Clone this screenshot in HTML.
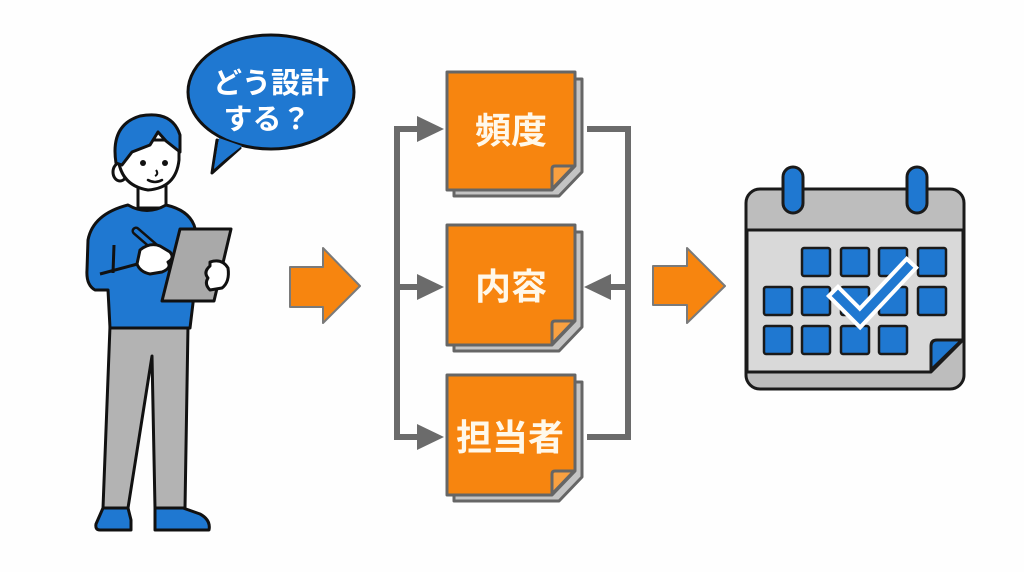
<!DOCTYPE html>
<html><head><meta charset="utf-8"><style>
html,body{margin:0;padding:0;background:#fff;}
svg{display:block;}
text{font-family:"Liberation Sans","Noto Sans CJK JP",sans-serif;font-weight:bold;}
</style></head><body>
<svg width="1024" height="572" viewBox="0 0 1024 572" xmlns="http://www.w3.org/2000/svg">
<rect width="1024" height="572" fill="#fefefe"/>

<!-- Speech bubble -->
<path d="M217,140 L212,173 L240,148 Z" fill="#1f78d1" stroke="#111" stroke-width="3" stroke-linejoin="round"/>
<ellipse cx="271" cy="92" rx="83" ry="57" fill="#1f78d1" stroke="#111" stroke-width="3"/>
<path d="M219,138 L214,168 L242,146 Z" fill="#1f78d1"/>
<text x="271" y="93" font-size="29" fill="#fff" text-anchor="middle">どう設計</text>
<text x="267" y="129" font-size="29" fill="#fff" text-anchor="middle">する？</text>

<!-- Person -->
<!-- pants -->
<path d="M110,326 L188,326 L185,508 L155,508 L152,356 L128,508 L103,508 Z" fill="#b3b3b3" stroke="#111" stroke-width="3" stroke-linejoin="round"/>
<!-- shoes -->
<path d="M103,508 L128,508 L131,520 L131,530 L100,530 Q95,530 96,524 Z" fill="#1f78d1" stroke="#111" stroke-width="3" stroke-linejoin="round"/>
<path d="M155,508 L183,508 L200,514 Q211,520 209,530 L155,530 Z" fill="#1f78d1" stroke="#111" stroke-width="3" stroke-linejoin="round"/>
<!-- neck -->
<path d="M138,185 L138,208 L166,208 L166,185 Z" fill="#fff" stroke="#111" stroke-width="3"/>
<!-- shirt -->
<path d="M128,205 Q147,216 166,205 Q188,210 194,225 L200,245 L190,328 L110,328 L108,290 L95,290 Q86,285 87,270 L88,240 Q93,214 128,205 Z" fill="#1f78d1" stroke="#111" stroke-width="3" stroke-linejoin="round"/>
<path d="M114,245 L113,273" stroke="#111" stroke-width="3" fill="none"/>
<path d="M100,274 L145,262" stroke="#111" stroke-width="3" fill="none"/>
<!-- clipboard -->
<path d="M180,229 L231,229 L214,301 L162,301 Z" fill="#a9a9a9" stroke="#111" stroke-width="3" stroke-linejoin="round"/>
<!-- pen -->
<path d="M136,231 L158,250" stroke="#111" stroke-width="9" stroke-linecap="round"/>
<path d="M136,231 L158,250" stroke="#1f78d1" stroke-width="4" stroke-linecap="round"/>
<!-- left hand -->
<path d="M140,250 Q150,242 160,246 L170,252 Q175,258 168,262 Q172,268 162,272 L150,274 Q140,272 137,264 Z" fill="#fff" stroke="#111" stroke-width="3" stroke-linejoin="round"/>
<!-- right hand -->
<path d="M210,262 Q222,258 228,268 Q230,282 222,288 L210,290 Q204,284 208,278 Q203,272 210,266 Z" fill="#fff" stroke="#111" stroke-width="3" stroke-linejoin="round"/>
<!-- head -->
<ellipse cx="120" cy="172" rx="7" ry="9" fill="#fff" stroke="#111" stroke-width="3"/>
<path d="M118,150 Q117,185 148,190 Q176,188 179,160 L179,140 L118,140 Z" fill="#fff" stroke="#111" stroke-width="3"/>
<path d="M116,163 Q110,125 140,116 Q172,110 180,135 L180,152 L166,141 L158,132 L150,145 L132,152 L122,165 Z" fill="#1f78d1" stroke="#111" stroke-width="3" stroke-linejoin="round"/>
<circle cx="143" cy="163" r="3" fill="#111"/>
<circle cx="165" cy="163" r="3" fill="#111"/>
<path d="M156,170 Q159,174 155,176" stroke="#111" stroke-width="2" fill="none"/>
<path d="M148,180 Q155,184 162,180" stroke="#111" stroke-width="2.5" fill="none" stroke-linecap="round"/>

<!-- Orange arrows -->
<path d="M290,267 L323,267 L323,248 L360,286 L323,323 L323,307 L290,307 Z" fill="#f7850f" stroke="#7a7a7a" stroke-width="2" stroke-linejoin="round"/>
<path d="M653,266 L687,266 L687,248 L725,286 L687,323 L687,305 L653,305 Z" fill="#f7850f" stroke="#7a7a7a" stroke-width="2" stroke-linejoin="round"/>

<!-- Connectors -->
<g stroke="#6b6b6b" stroke-width="6" fill="none">
<path d="M420,129 L397,129 L397,437 L420,437"/>
<path d="M397,287 L420,287"/>
<path d="M587,129 L628,129 L628,437 L587,437"/>
<path d="M628,287 L608,287"/>
</g>
<g fill="#6b6b6b">
<path d="M417,116 L444,129 L417,142 Z"/>
<path d="M417,274 L444,287 L417,300 Z"/>
<path d="M417,424 L444,437 L417,450 Z"/>
<path d="M611,274 L584,287 L611,300 Z"/>
</g>

<!-- Notes -->
<g id="n1">
<path d="M454,79 L582,79 L582,172 L559,196 L454,196 Z" fill="#c4c4c4" stroke="#666" stroke-width="3" stroke-linejoin="round"/>
<path d="M447,72 L575,72 L575,166 L552,190 L447,190 Z" fill="#f7850f" stroke="#666" stroke-width="3" stroke-linejoin="round"/>
<path d="M552,189 L552,169 Q552,166 555,166 L574,166 Z" fill="#f9a040" stroke="#666" stroke-width="3" stroke-linejoin="round"/>
<text x="511" y="143" font-size="36" fill="#fff8ea" text-anchor="middle">頻度</text>
</g>
<g>
<path d="M454,232 L582,232 L582,327 L559,351 L454,351 Z" fill="#c4c4c4" stroke="#666" stroke-width="3" stroke-linejoin="round"/>
<path d="M447,225 L575,225 L575,321 L552,345 L447,345 Z" fill="#f7850f" stroke="#666" stroke-width="3" stroke-linejoin="round"/>
<path d="M552,344 L552,324 Q552,321 555,321 L574,321 Z" fill="#f9a040" stroke="#666" stroke-width="3" stroke-linejoin="round"/>
<text x="511" y="299" font-size="36" fill="#fff8ea" text-anchor="middle">内容</text>
</g>
<g>
<path d="M454,382 L582,382 L582,477 L559,501 L454,501 Z" fill="#c4c4c4" stroke="#666" stroke-width="3" stroke-linejoin="round"/>
<path d="M447,375 L575,375 L575,471 L552,495 L447,495 Z" fill="#f7850f" stroke="#666" stroke-width="3" stroke-linejoin="round"/>
<path d="M552,494 L552,474 Q552,471 555,471 L574,471 Z" fill="#f9a040" stroke="#666" stroke-width="3" stroke-linejoin="round"/>
<text x="510" y="450" font-size="36" fill="#fff8ea" text-anchor="middle">担当者</text>
</g>

<!-- Calendar -->
<rect x="746" y="189" width="218" height="200" rx="14" fill="#bdbdbd" stroke="#1a1a1a" stroke-width="3"/>
<path d="M747,230 L963,230 L963,340 L931,372 L747,372 Z" fill="#d9d9d9" stroke="#1a1a1a" stroke-width="3" stroke-linejoin="round"/>
<path d="M931,370 L931,346 Q931,340 937,340 L962,340 Z" fill="#1f78d1" stroke="#1a1a1a" stroke-width="3" stroke-linejoin="round"/>
<rect x="783" y="167" width="20" height="46" rx="10" fill="#1f78d1" stroke="#1a1a1a" stroke-width="3"/>
<rect x="907" y="167" width="20" height="46" rx="10" fill="#1f78d1" stroke="#1a1a1a" stroke-width="3"/>
<g fill="#1f78d1" stroke="#1a1a1a" stroke-width="2.5">
<rect x="802" y="248" width="28" height="28" rx="2"/>
<rect x="841" y="248" width="28" height="28" rx="2"/>
<rect x="879" y="248" width="28" height="28" rx="2"/>
<rect x="918" y="248" width="28" height="28" rx="2"/>
<rect x="764" y="287" width="28" height="28" rx="2"/>
<rect x="802" y="287" width="28" height="28" rx="2"/>
<rect x="841" y="287" width="28" height="28" rx="2"/>
<rect x="879" y="287" width="28" height="28" rx="2"/>
<rect x="918" y="287" width="28" height="28" rx="2"/>
<rect x="764" y="326" width="28" height="28" rx="2"/>
<rect x="802" y="326" width="28" height="28" rx="2"/>
<rect x="841" y="326" width="28" height="28" rx="2"/>
<rect x="879" y="326" width="28" height="28" rx="2"/>
</g>
<path d="M838,296 L860,318 L907,268" stroke="#fff" stroke-width="17" fill="none" stroke-linejoin="miter" stroke-linecap="square"/>
<path d="M838,296 L860,318 L907,268" stroke="#1f78d1" stroke-width="9" fill="none" stroke-linejoin="miter" stroke-linecap="square"/>
</svg>
</body></html>
